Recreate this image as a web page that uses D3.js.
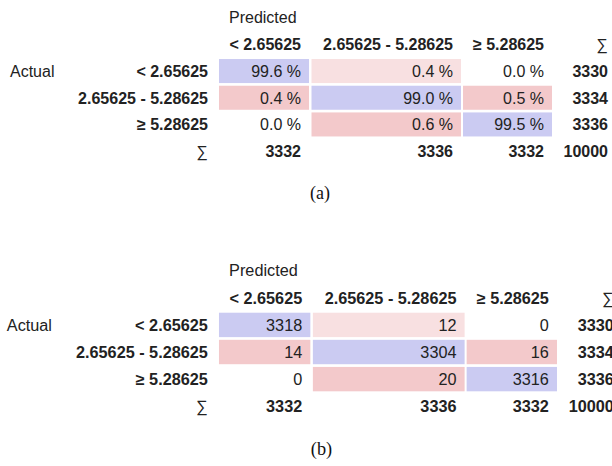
<!DOCTYPE html>
<meta charset="utf-8">
<script src="https://d3js.org/d3.v7.min.js"></script>
<style>
  body { margin: 0; background: #fff; }
  text { font-family: "Liberation Sans", Arial, sans-serif; font-size: 16px; fill: #222; }
  .bold { font-weight: bold; }
  .cap { font-family: "Liberation Serif", "Times New Roman", serif; fill: #111; }
</style>
<div id="chart"></div>
<script>
// class labels
var categories = ["< 2.65625", "2.65625 - 5.28625", "\u2265 5.28625"];

// (a) row-normalised percentages
var percents = [
  [99.6, 0.4, 0.0],
  [0.4, 99.0, 0.5],
  [0.0, 0.6, 99.5]
];

// (b) raw counts
var counts = [
  [3318, 12, 0],
  [14, 3304, 16],
  [0, 20, 3316]
];

var rowTotals = [3330, 3334, 3336];
var colTotals = [3332, 3336, 3332];
var grandTotal = 10000;

var svg = d3.select("#chart").append("svg")
  .attr("width", 612)
  .attr("height", 466);

// columns have different widths, so an ordinal of left/right edges
var colLeft = d3.scaleOrdinal().domain([0, 1, 2]).range([219, 311.5, 463]);
var colRight = d3.scaleOrdinal().domain([0, 1, 2]).range([309, 461, 552]);

// rows: header, 3 classes, sum
var y = d3.scaleBand()
  .domain(["head", 0, 1, 2, "sum"])
  .range([31, 164.5])
  .paddingInner(0.1)
  .paddingOuter(0.05);

var blue = "#cbcbf2";
var offColor = d3.scaleThreshold()
  .domain([1, 13])
  .range(["#ffffff", "#f8e0e1", "#f3c9cb"]);

function cellColor(i, j) {
  if (i === j) return blue;
  return offColor(counts[i][j]);
}

function drawPanel(g, values, fmt, caption) {
  var base = function(k) { return y(k) + y.bandwidth() / 2 + 6; };

  g.append("text").attr("x", 229).attr("y", 23).text("Predicted");
  g.append("text").attr("x", 10).attr("y", base(0)).text("Actual");

  // column headers
  g.selectAll(".colhead").data(categories).enter().append("text")
    .attr("class", "bold")
    .attr("text-anchor", "end")
    .attr("x", function(d, j) { return colRight(j) - 8; })
    .attr("y", base("head"))
    .text(function(d) { return d; });
  g.append("text").attr("text-anchor", "end").attr("x", 608).attr("y", base("head")).text("\u2211");

  // row headers
  g.selectAll(".rowhead").data(categories).enter().append("text")
    .attr("class", "bold")
    .attr("text-anchor", "end")
    .attr("x", 208)
    .attr("y", function(d, i) { return base(i); })
    .text(function(d) { return d; });
  g.append("text").attr("text-anchor", "end").attr("x", 208).attr("y", base("sum")).text("\u2211");

  // cells
  var cells = [];
  values.forEach(function(row, i) {
    row.forEach(function(v, j) { cells.push({i: i, j: j, v: v}); });
  });

  g.selectAll(".cell").data(cells).enter().append("rect")
    .attr("x", function(d) { return colLeft(d.j); })
    .attr("y", function(d) { return y(d.i); })
    .attr("width", function(d) { return colRight(d.j) - colLeft(d.j); })
    .attr("height", y.bandwidth())
    .attr("fill", function(d) { return cellColor(d.i, d.j); });

  g.selectAll(".val").data(cells).enter().append("text")
    .attr("text-anchor", "end")
    .attr("x", function(d) { return colRight(d.j) - 8; })
    .attr("y", function(d) { return base(d.i); })
    .text(function(d) { return fmt(d.v); });

  // totals
  g.selectAll(".rt").data(rowTotals).enter().append("text")
    .attr("class", "bold")
    .attr("text-anchor", "end")
    .attr("x", 608)
    .attr("y", function(d, i) { return base(i); })
    .text(function(d) { return d; });

  g.selectAll(".ct").data(colTotals).enter().append("text")
    .attr("class", "bold")
    .attr("text-anchor", "end")
    .attr("x", function(d, j) { return colRight(j) - 8; })
    .attr("y", base("sum"))
    .text(function(d) { return d; });

  g.append("text")
    .attr("class", "bold")
    .attr("text-anchor", "end")
    .attr("x", 608)
    .attr("y", base("sum"))
    .text(grandTotal);

  g.append("text")
    .attr("class", "cap")
    .attr("text-anchor", "middle")
    .attr("x", 320)
    .attr("y", 199)
    .style("font-size", "18px")
    .text(caption);
}

var ga = svg.append("g");
drawPanel(ga, percents, function(v) { return v.toFixed(1) + " %"; }, "(a)");

// second panel is a touch larger in the source image
var gb = svg.append("g").attr("transform", "translate(-3.3,252.8) scale(1.015)");
drawPanel(gb, counts, function(v) { return v; }, "(b)");
</script>
